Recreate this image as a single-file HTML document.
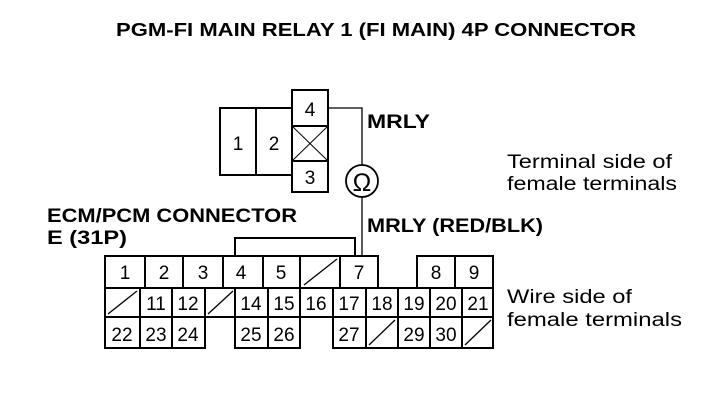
<!DOCTYPE html>
<html><head><meta charset="utf-8"><style>
html,body{margin:0;padding:0;background:#fff;}
svg{display:block;}
.b{font-family:"Liberation Sans",sans-serif;font-weight:bold;fill:#000;}
.r{font-family:"Liberation Sans",sans-serif;fill:#000;}
.n{font-family:"Liberation Sans",sans-serif;fill:#000;font-size:19px;text-anchor:middle;}
</style></head><body>
<svg width="704" height="402" viewBox="0 0 704 402" xmlns="http://www.w3.org/2000/svg">
<text class="b" x="116" y="36" font-size="18" textLength="520" lengthAdjust="spacingAndGlyphs">PGM-FI MAIN RELAY 1 (FI MAIN) 4P CONNECTOR</text>
<g fill="none" stroke="#000" stroke-width="2">
<rect x="220" y="108" width="72" height="67"/>
<line x1="256" y1="108" x2="256" y2="175"/>
<rect x="292" y="90" width="36" height="102" fill="#fff"/>
<line x1="292" y1="126" x2="328" y2="126"/>
<line x1="292" y1="161" x2="328" y2="161"/>
<line x1="292" y1="126" x2="328" y2="161" stroke-width="1"/>
<line x1="328" y1="126" x2="292" y2="161" stroke-width="1"/>
<polyline points="328,108 362,108 362,165" stroke-width="1.3"/>
<circle cx="362" cy="181" r="16" stroke-width="1.8"/>
<line x1="362" y1="197" x2="362" y2="258" stroke-width="1.3"/>
<polyline points="235,256 235,238 355,238 355,256"/>
</g>
<text class="n" x="238" y="150">1</text>
<text class="n" x="274" y="150">2</text>
<text class="n" x="310" y="116">4</text>
<text class="n" x="310" y="184">3</text>
<text class="r" x="362" y="191" font-size="25" text-anchor="middle">Ω</text>
<text class="b" x="367" y="128" font-size="19" textLength="63" lengthAdjust="spacingAndGlyphs">MRLY</text>
<text class="b" x="367" y="232" font-size="19" textLength="176" lengthAdjust="spacingAndGlyphs">MRLY (RED/BLK)</text>
<text class="b" x="47" y="222" font-size="19" textLength="250" lengthAdjust="spacingAndGlyphs">ECM/PCM CONNECTOR</text>
<text class="b" x="47" y="244" font-size="19" textLength="80" lengthAdjust="spacingAndGlyphs">E (31P)</text>
<text class="r" x="507" y="168" font-size="19" textLength="165" lengthAdjust="spacingAndGlyphs">Terminal side of</text>
<text class="r" x="507" y="190" font-size="19" textLength="170" lengthAdjust="spacingAndGlyphs">female terminals</text>
<text class="r" x="507" y="303" font-size="19" textLength="125" lengthAdjust="spacingAndGlyphs">Wire side of</text>
<text class="r" x="507" y="326" font-size="19" textLength="175" lengthAdjust="spacingAndGlyphs">female terminals</text>
<g fill="#fff" stroke="#000" stroke-width="2">
<rect x="105" y="256" width="40" height="32"/><rect x="145" y="256" width="38" height="32"/>
<rect x="183" y="256" width="40" height="32"/><rect x="223" y="256" width="40" height="32"/>
<rect x="263" y="256" width="37" height="32"/><rect x="300" y="256" width="40" height="32"/>
<rect x="340" y="256" width="38" height="32"/>
<rect x="417" y="256" width="38" height="32"/><rect x="455" y="256" width="38" height="32"/>
<rect x="105" y="288" width="35" height="29"/><rect x="140" y="288" width="32" height="29"/>
<rect x="172" y="288" width="33" height="29"/><rect x="205" y="288" width="30" height="29"/>
<rect x="235" y="288" width="33" height="29"/><rect x="268" y="288" width="32" height="29"/>
<rect x="300" y="288" width="33" height="29"/><rect x="333" y="288" width="33" height="29"/>
<rect x="366" y="288" width="32" height="29"/><rect x="398" y="288" width="32" height="29"/>
<rect x="430" y="288" width="32" height="29"/><rect x="462" y="288" width="31" height="29"/>
<rect x="105" y="317" width="35" height="31"/><rect x="140" y="317" width="32" height="31"/>
<rect x="172" y="317" width="33" height="31"/>
<rect x="235" y="317" width="33" height="31"/><rect x="268" y="317" width="32" height="31"/>
<rect x="333" y="317" width="33" height="31"/><rect x="366" y="317" width="32" height="31"/>
<rect x="398" y="317" width="32" height="31"/><rect x="430" y="317" width="32" height="31"/>
<rect x="462" y="317" width="31" height="31"/>
</g>
<g stroke="#000" stroke-width="1.3">
<line x1="304" y1="285" x2="337" y2="259"/>
<line x1="108" y1="314" x2="137" y2="291"/>
<line x1="208" y1="314" x2="233" y2="291"/>
<line x1="369" y1="345" x2="395" y2="320"/>
<line x1="465" y1="345" x2="491" y2="320"/>
</g>
<text class="n" x="125" y="279">1</text><text class="n" x="164" y="279">2</text>
<text class="n" x="203" y="279">3</text><text class="n" x="241" y="279">4</text>
<text class="n" x="281" y="279">5</text><text class="n" x="359" y="279">7</text>
<text class="n" x="436" y="279">8</text><text class="n" x="474" y="279">9</text>
<text class="n" x="156" y="310">11</text><text class="n" x="188" y="310">12</text>
<text class="n" x="251" y="310">14</text><text class="n" x="284" y="310">15</text>
<text class="n" x="316" y="310">16</text><text class="n" x="349" y="310">17</text>
<text class="n" x="382" y="310">18</text><text class="n" x="414" y="310">19</text>
<text class="n" x="446" y="310">20</text><text class="n" x="478" y="310">21</text>
<text class="n" x="122" y="341">22</text><text class="n" x="156" y="341">23</text>
<text class="n" x="188" y="341">24</text><text class="n" x="251" y="341">25</text>
<text class="n" x="284" y="341">26</text><text class="n" x="349" y="341">27</text>
<text class="n" x="414" y="341">29</text><text class="n" x="446" y="341">30</text>
</svg>
</body></html>
